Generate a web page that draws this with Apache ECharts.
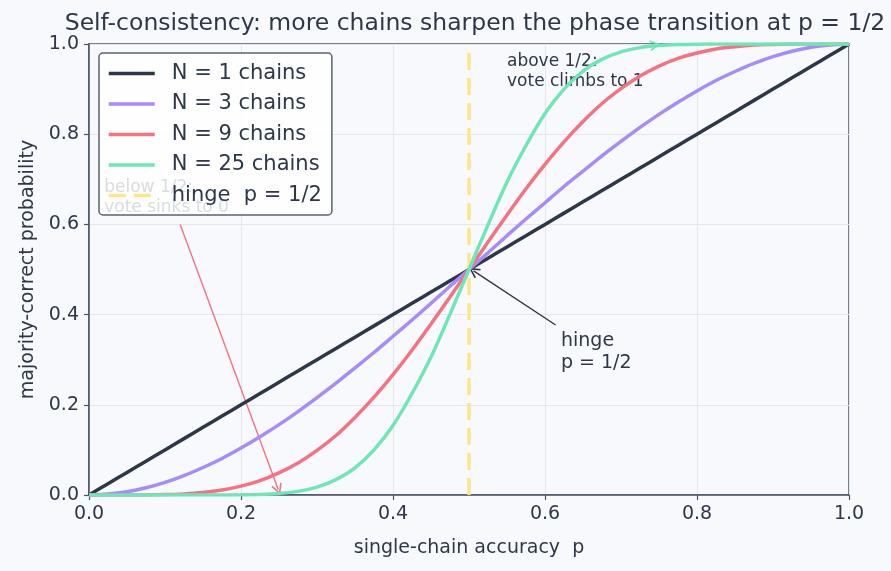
<!DOCTYPE html>
<html>
<head>
<meta charset="utf-8">
<title>Self-consistency phase transition</title>
<script src="https://cdn.jsdelivr.net/npm/echarts@6/dist/echarts.min.js"></script>
<style>
  html, body { margin: 0; padding: 0; background: #f8f9fc; }
  #chart { width: 891px; height: 571px; }
</style>
</head>
<body>
<div id="chart"></div>
<script>
// single-chain accuracy p (x axis), step 0.025
const pGrid = [0, 0.025, 0.05, 0.075, 0.1, 0.125, 0.15, 0.175, 0.2, 0.225,
               0.25, 0.275, 0.3, 0.325, 0.35, 0.375, 0.4, 0.425, 0.45, 0.475,
               0.5, 0.525, 0.55, 0.575, 0.6, 0.625, 0.65, 0.675, 0.7, 0.725,
               0.75, 0.775, 0.8, 0.825, 0.85, 0.875, 0.9, 0.925, 0.95, 0.975, 1];

// majority-correct probability for each chain count
const voteN1 = [0, 0.025, 0.05, 0.075, 0.1, 0.125, 0.15, 0.175, 0.2, 0.225,
                0.25, 0.275, 0.3, 0.325, 0.35, 0.375, 0.4, 0.425, 0.45, 0.475,
                0.5, 0.525, 0.55, 0.575, 0.6, 0.625, 0.65, 0.675, 0.7, 0.725,
                0.75, 0.775, 0.8, 0.825, 0.85, 0.875, 0.9, 0.925, 0.95, 0.975, 1];
const voteN3 = [0, 0.002, 0.007, 0.016, 0.028, 0.043, 0.061, 0.081, 0.104, 0.129,
                0.156, 0.185, 0.216, 0.248, 0.282, 0.316, 0.352, 0.388, 0.425, 0.463,
                0.5, 0.537, 0.575, 0.612, 0.648, 0.684, 0.718, 0.752, 0.784, 0.815,
                0.844, 0.871, 0.896, 0.919, 0.939, 0.957, 0.972, 0.984, 0.993, 0.998, 1];
const voteN9 = [0, 0, 0, 0.0002, 0.0009, 0.0025, 0.0056, 0.011, 0.0196, 0.032,
                0.049, 0.071, 0.099, 0.132, 0.172, 0.217, 0.267, 0.321, 0.379, 0.439,
                0.5, 0.561, 0.621, 0.679, 0.733, 0.783, 0.828, 0.868, 0.901, 0.929,
                0.951, 0.968, 0.980, 0.989, 0.994, 0.998, 0.999, 1, 1, 1, 1];
const voteN25 = [0, 0, 0, 0, 0, 0, 0, 0.0001, 0.0004, 0.0012,
                 0.0034, 0.008, 0.0175, 0.034, 0.060, 0.100, 0.154, 0.225, 0.306, 0.401,
                 0.5, 0.599, 0.694, 0.775, 0.846, 0.900, 0.940, 0.966, 0.9825, 0.992,
                 0.9966, 0.9988, 0.9996, 0.9999, 1, 1, 1, 1, 1, 1, 1];

const seriesNames = ['N = 1 chains', 'N = 3 chains', 'N = 9 chains', 'N = 25 chains'];
const seriesColors = ['#2d3748', '#a78bfa', '#f47282', '#6ee7b7'];
const hingeName = 'hinge  p = 1/2';
const hingeP = 0.5;

const chart = echarts.init(document.getElementById('chart'));

function pairs(ys) {
  return pGrid.map((p, i) => [p, ys[i]]);
}

const axisColor = '#4a5568';
const textColor = '#2d3748';

// open "->" style arrow head
const openHead = 'path://M0,10 L5,0 L10,10 L8.6,10.6 L5,3.2 L1.4,10.6 Z';

const curveSeries = [voteN1, voteN3, voteN9, voteN25].map((ys, i) => ({
  name: seriesNames[i],
  type: 'line',
  data: pairs(ys),
  smooth: 0.3,
  showSymbol: false,
  symbol: 'none',
  z: 3 + i,
  lineStyle: { color: seriesColors[i], width: 3.5 },
  itemStyle: { color: seriesColors[i] }
}));

function arrow(from, to, color) {
  return {
    silent: true,
    z: 3,
    symbol: ['none', openHead],
    symbolSize: 11,
    label: { show: false },
    itemStyle: { color: color },
    lineStyle: { color: color, width: 1.4, type: 'solid' },
    data: [[{ coord: from }, { coord: to }]]
  };
}

// annotation arrows
curveSeries[0].markLine = arrow([0.614, 0.377], [0.506, 0.497], '#2d3748');
curveSeries[2].markLine = arrow([0.12, 0.6], [0.249, 0.012], '#f47282');
curveSeries[3].markLine = arrow([0.70, 0.985], [0.745, 0.998], '#6ee7b7');

function note(coord, text, size) {
  return {
    coord: coord,
    symbol: 'circle',
    symbolSize: 0,
    label: {
      show: true,
      formatter: text,
      position: [0, 0],
      align: 'left',
      verticalAlign: 'bottom',
      color: textColor,
      fontSize: size,
      lineHeight: Math.round(size * 1.17),
      fontFamily: 'DejaVu Sans'
    }
  };
}

const hingeSeries = {
  name: hingeName,
  type: 'line',
  data: [[hingeP, 0], [hingeP, 1]],
  showSymbol: false,
  symbol: 'none',
  z: 2,
  lineStyle: { color: '#fde68a', width: 3.5, type: [17, 8] },
  itemStyle: { color: '#fde68a' },
  markPoint: {
    silent: true,
    z: 1,
    data: [
      note([0.55, 0.894], 'above 1/2:\nvote climbs to 1', 17),
      note([0.02, 0.616], 'below 1/2:\nvote sinks to 0', 17),
      note([0.621, 0.268], 'hinge\np = 1/2', 19)
    ]
  }
};

chart.setOption({
  backgroundColor: '#f8f9fc',
  animation: false,
  textStyle: { fontFamily: 'DejaVu Sans', color: textColor },
  title: {
    text: 'Self-consistency: more chains sharpen the phase transition at p = 1/2',
    left: 470,
    textAlign: 'center',
    top: 7,
    textStyle: { fontSize: 23.5, fontWeight: 'normal', color: textColor, fontFamily: 'DejaVu Sans' }
  },
  legend: {
    data: seriesNames.concat([hingeName]),
    orient: 'vertical',
    left: 99,
    top: 53,
    z: 10,
    padding: [10, 10, 9, 8],
    itemWidth: 46,
    itemHeight: 20,
    itemGap: 9.5,
    backgroundColor: 'rgba(255,255,255,0.82)',
    borderColor: '#5a6172',
    borderWidth: 1.5,
    borderRadius: 4,
    itemStyle: { opacity: 0 },
    lineStyle: { width: 3.5 },
    textStyle: { fontSize: 21, color: textColor, padding: [0, 0, 0, 12] }
  },
  grid: {
    left: 89, right: 42, top: 44, bottom: 76,
    show: true,
    borderColor: axisColor,
    borderWidth: 1.5,
    backgroundColor: 'transparent'
  },
  xAxis: {
    type: 'value',
    min: 0, max: 1, interval: 0.2,
    name: 'single-chain accuracy  p',
    nameLocation: 'middle',
    nameGap: 44,
    nameTextStyle: { fontSize: 19, color: textColor },
    axisLine: { show: true, lineStyle: { color: axisColor, width: 1.5 } },
    axisTick: { show: true, length: 5, lineStyle: { color: axisColor, width: 1.2 } },
    axisLabel: { fontSize: 19, color: textColor, margin: 10, formatter: v => v.toFixed(1) },
    splitLine: { show: true, lineStyle: { color: '#e3e6ec', width: 1 } }
  },
  yAxis: {
    type: 'value',
    min: 0, max: 1, interval: 0.2,
    name: 'majority-correct probability',
    nameLocation: 'middle',
    nameGap: 51,
    nameTextStyle: { fontSize: 19, color: textColor },
    axisLine: { show: true, lineStyle: { color: axisColor, width: 1.5 } },
    axisTick: { show: true, length: 5, lineStyle: { color: axisColor, width: 1.2 } },
    axisLabel: { fontSize: 19, color: textColor, margin: 10, formatter: v => v.toFixed(1) },
    splitLine: { show: true, lineStyle: { color: '#e3e6ec', width: 1 } }
  },
  series: curveSeries.concat([hingeSeries])
});
</script>
</body>
</html>
